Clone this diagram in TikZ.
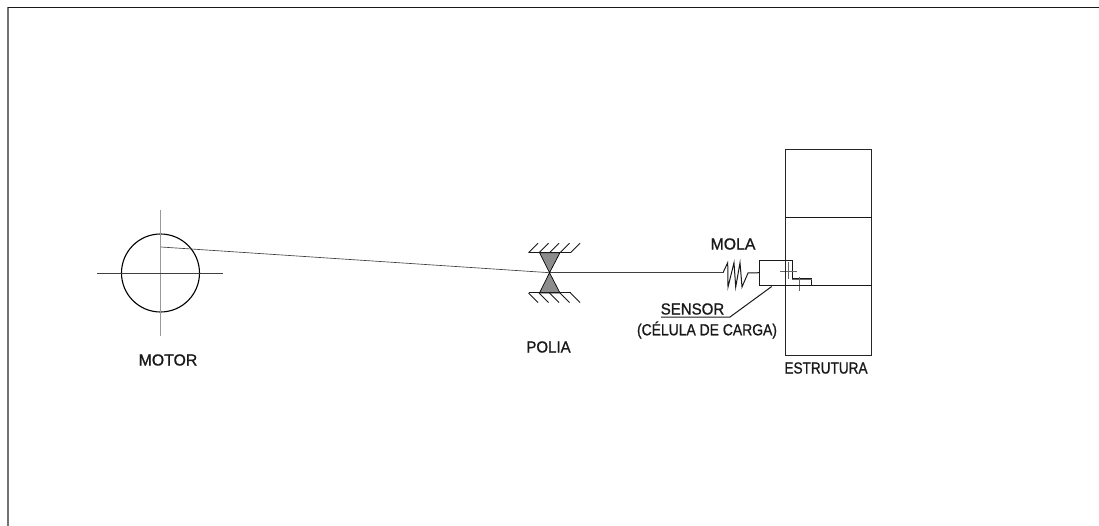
\documentclass[tikz,border=0pt]{standalone}
\usepackage{fontspec}
\setmainfont[FakeBold=1]{Liberation Sans}
\newcommand{\sx}[2]{\scalebox{#1}[1]{#2}}
\tikzset{
  ln/.style={draw=black!90,line width=1pt},
  thin ln/.style={draw=black!75,line width=0.65pt},
  axis/.style={draw=black!40,line width=1pt},
  lbl/.style={inner sep=0pt,font=\fontsize{16}{17}\selectfont,text=black!90},
}
\begin{document}
\begin{tikzpicture}[x=1pt,y=-1pt]
\useasboundingbox (0,0) rectangle (1099,526);
\fill[white] (0,0) rectangle (1099,526);
% frame
\coordinate (fa) at (8,526);\coordinate (fb) at (8,7.5);\coordinate (fc) at (1099,7.5);
\draw[draw=black!55,line width=1.4pt] (fa) -- (fb);
\draw[draw=black!90,line width=1.1pt] (fb) -- (fc);
% motor
\coordinate (mc) at (160.5,273);
\node[draw=black,line width=1.1pt,circle,minimum size=78pt,inner sep=0pt] (motor) at (mc) {};
\coordinate (ma) at (160.5,210);\coordinate (mb) at (160.5,336);
\coordinate (ml) at (97,273);\coordinate (mr) at (223,273);
\draw[axis] (ma) -- (mb);
\draw[thin ln] (ml) -- (mr);
\coordinate (belt) at (161,247);
\coordinate (apex) at (549.5,272.7);
\draw[thin ln] (belt) -- (apex);
% pulley
\coordinate (tl) at (539.5,252.7);\coordinate (tr) at (560,252.7);
\coordinate (bl) at (539.5,293);\coordinate (br) at (560,293);
\draw[fill=black!45,draw=black,line width=0.7pt] (tl) -- (tr) -- (apex) -- cycle;
\draw[fill=black!45,draw=black,line width=0.7pt] (bl) -- (br) -- (apex) -- cycle;
\draw[ln] (528.5,252.7) -- (571,252.7);
\draw[ln] (528.5,293) -- (571,293);
\foreach \x in {528.5,539,549.5,560,570.5}{
  \draw[ln] (\x,252.7) -- ++(9.5,-9.5);
  \draw[ln] (\x,293) -- ++(9.5,9.5);
}
% wire to spring
\coordinate (sp0) at (723,272.7);
\draw[thin ln] (apex) -- (sp0);
\coordinate (sb) at (759.5,272.7);
\draw[ln] (sp0) -- (727.7,262.7) -- (728,287) -- (734,262.7) -- (735.7,287) -- (740,262.7) -- (742,287) -- (748,273) -- (sb);
% sensor
\draw[ln] (759.5,260.7) -- (792.3,260.7) -- (792.3,279) -- (811.7,279) -- (811.7,286) -- (759.5,286) -- cycle;
\coordinate (c1a) at (780,271.5);\coordinate (c1b) at (797,271.5);
\draw[draw=black!60,line width=0.7pt] (c1a) -- (c1b) (788,262) -- (788,279);
\draw[draw=black!60,line width=0.7pt] (792,279) -- (812,279) (799,277) -- (799,291);
% structure
\node[draw=black!85,line width=1pt,minimum width=86.7pt,minimum height=205.7pt,inner sep=0pt] (est) at (828.4,252.2) {};
\coordinate (s1a) at (785,218);\coordinate (s1b) at (871.7,218);
\coordinate (s2a) at (785,286);\coordinate (s2b) at (871.7,286);
\draw[ln] (s1a) -- (s1b);
\draw[ln] (s2a) -- (s2b);
% sensor leader
\coordinate (l0) at (661,317);\coordinate (l1) at (730,317);\coordinate (l2) at (771.7,286.5);
\draw[ln] (l0) -- (l1) -- (l2);
% labels
\node[lbl] (tmotor) at (168,360) {\sx{0.99}{MOTOR}};
\node[lbl] (tpolia) at (548.5,347) {\sx{0.94}{POLIA}};
\node[lbl] (tmola) at (733,244) {\sx{0.99}{MOLA}};
\node[lbl] (tsensor) at (692.5,309) {\sx{0.94}{SENSOR}};
\node[lbl] (tcel) at (707,330) {\sx{0.87}{(CÉLULA DE CARGA)}};
\node[lbl] (test) at (826,368) {\sx{0.85}{ESTRUTURA}};
\end{tikzpicture}
\end{document}
